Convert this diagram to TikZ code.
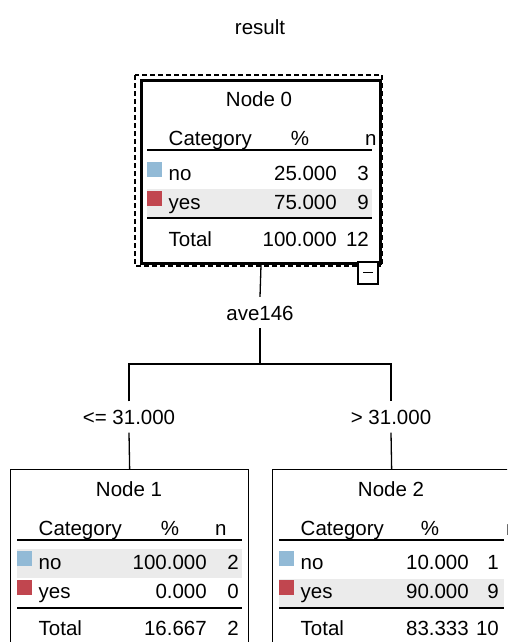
\documentclass[tikz,border=0pt]{standalone}
\usepackage{fontspec}
\setmainfont{Liberation Sans}
\definecolor{bandgray}{HTML}{EBEBEB}
\definecolor{noblue}{HTML}{92BAD6}
\definecolor{yesred}{HTML}{C1464F}
\tikzset{
  txt/.style={inner sep=0pt, font=\fontsize{20.5}{24}\selectfont},
  conn/.style={line width=1.3pt},
  treebox/.style={draw, line width=1.3pt, minimum width=238pt, minimum height=183pt, inner sep=0pt},
  swatch/.style={minimum width=15pt, minimum height=15pt, inner sep=0pt},
  hrule/.style={line width=1.5pt},
  hrulethick/.style={line width=2pt},
  edgelabel/.style={txt, text height=15pt, text depth=0pt, minimum height=31pt},
}
% #1 name, #2 L, #3 T, #4 title, #5 band row (0 = first, 30 = second), #6 percent-x offset, #7 n-header x offset (west)
\newcommand\tnode[7]{%
  \fill[bandgray] (#2+7,#3+80+#5) rectangle (#2+232,#3+109+#5);
  \node[txt, anchor=base] (#1-t) at (#2+119,#3+27.5) {#4};
  \node[txt, anchor=base west] (#1-hc) at (#2+28.5,#3+66) {Category};
  \node[txt, anchor=base] (#1-hp) at (#2+#6,#3+66) {\%};
  \node[txt, anchor=base west] (#1-hn) at (#2+#7,#3+66) {n};
  \draw[hrule] (#2+7,#3+71) -- (#2+232,#3+71);
  \draw[hrulethick] (#2+7,#3+138.5) -- (#2+232,#3+138.5);
}
% #1 name, #2 L, #3 base y, #4 colour, #5 label, #6 pct, #7 n, #8 n x offset
\newcommand\trow[8]{%
  \ifx\relax#4\relax\else
  \node[swatch, fill=#4, anchor=north west] (#1-sw) at (#2+7,#3-18.5) {};
  \fi
  \node[txt, anchor=base west] (#1-c) at (#2+28.5,#3) {#5};
  \node[txt, anchor=base east] (#1-p) at (#2+197,#3) {#6};
  \node[txt, anchor=base east] (#1-n) at (#2+#8,#3) {#7};
}
\begin{document}
\begin{tikzpicture}[x=1pt,y=-1pt]
\useasboundingbox (0,0) rectangle (507,642);
\clip (0,0) rectangle (507,642);
\fill[white] (0,0) rectangle (507,642);

\node[txt, anchor=base] (title) at (260,35) {result};

% Node 0
\draw[line width=1.3pt, dash pattern=on 5pt off 3pt] (135,75) rectangle (382,266);
\node[treebox, line width=3pt, minimum width=239pt, anchor=north west] (n0) at (140,79) {};
\tnode{n0}{140}{79}{Node 0}{30}{160}{225}
\trow{n0r1}{140}{180}{noblue}{no}{25.000}{3}{229}
\trow{n0r2}{140}{209}{yesred}{yes}{75.000}{9}{229}
\trow{n0r3}{140}{246}{}{Total}{100.000}{12}{229}
\draw[line width=1.3pt, fill=white] (358,262) rectangle (378,284);
\draw[line width=1.3pt] (363,272.5) -- (373,272.5);

% Node 1
\node[treebox, anchor=north west] (n1) at (10,469) {};
\tnode{n1}{10}{469}{Node 1}{0}{160}{205}
\trow{n1r1}{10}{569}{noblue}{no}{100.000}{2}{229}
\trow{n1r2}{10}{598}{yesred}{yes}{0.000}{0}{229}
\trow{n1r3}{10}{635.5}{}{Total}{16.667}{2}{229}

% Node 2
\node[treebox, anchor=north west] (n2) at (272,469) {};
\tnode{n2}{272}{469}{Node 2}{30}{158}{234}
\trow{n2r1}{272}{569}{noblue}{no}{10.000}{1}{227}
\trow{n2r2}{272}{598}{yesred}{yes}{90.000}{9}{227}
\trow{n2r3}{272}{635.5}{}{Total}{83.333}{10}{227}

% connectors
\node[edgelabel] (lab0) at (260,312.5) {ave146};
\node[edgelabel] (labL) at (129,417) {<= 31.000};
\node[edgelabel] (labR) at (391,417) {> 31.000};
\coordinate (split) at (260,364);
\draw[conn] (n0.south) -- (lab0.north);
\draw[conn] (lab0.south) -- (split);
\draw[conn] (labL.north) |- (split) -| (labR.north);
\draw[conn] (labL.south) -- (n1.north);
\draw[conn] (labR.south) -- (n2.north);
\end{tikzpicture}
\end{document}
